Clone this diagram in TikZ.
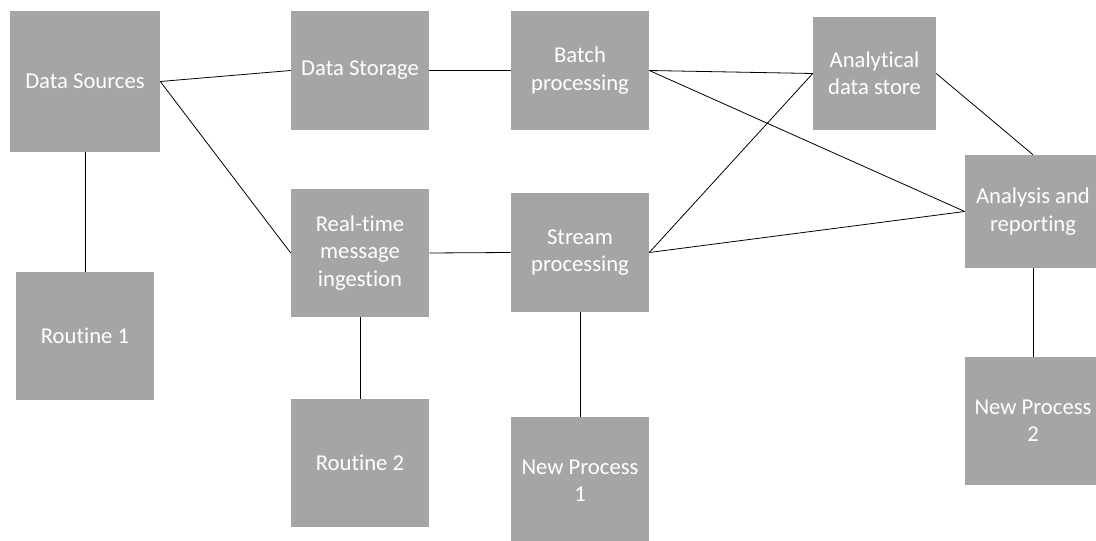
\documentclass[tikz,border=0pt]{standalone}
\usepackage{xcolor}
\usepackage{fontspec}
\setmainfont{Carlito}[Ligatures=NoCommon]
\usepackage{tikz}

\definecolor{boxgray}{HTML}{A5A5A5}

\begin{document}
\begin{tikzpicture}[
    x=0.75pt, y=-0.75pt,
    every node/.style={rectangle, fill=boxgray, text=white, inner sep=0pt, align=center,
        font=\fontsize{17}{20.5}\selectfont},
    wide/.style={minimum width=103.5pt},
    tall/.style={minimum height=96pt},
    short/.style={minimum height=89.25pt},
    link/.style={draw=black, line width=0.6pt}
]
\useasboundingbox (0,0) rectangle (1096,541);

% Top row
\node[minimum width=112.5pt, minimum height=105.75pt] (src) at (85,81.5) {Data Sources};
\node[wide, short] (storage) at (360,70.5) {Data Storage};
\node[wide, short] (batch) at (580,70.5) {Batch\\processing};
\node[minimum width=92.25pt, minimum height=84.75pt] (adstore) at (874.5,73.5) {Analytical\\data store};
\node[minimum width=102pt, minimum height=84.75pt] (report) at (1033,211.5) {Analysis and\\reporting};

% Middle row
\node[wide, tall] (ingest) at (360,253) {Real-time\\message\\ingestion};
\node[wide, short] (stream) at (580,252.5) {Stream\\processing};

% Bottom row
\node[wide, tall] (rout1) at (85,336) {Routine 1};
\node[wide, tall] (rout2) at (360,463) {Routine 2};
\node[wide, tall] (proc1) at (580,481) {New Process\\1};
\node[minimum width=102pt, tall] (proc2) at (1033,421) {New Process\\2};

% Links
\draw[link] (src.east) -- (storage.west);
\draw[link] (src.east) -- (ingest.west);
\draw[link] (src.south) -- (rout1.north);
\draw[link] (storage.east) -- (batch.west);
\draw[link] (batch.east) -- (adstore.west);
\draw[link] (batch.east) -- (report.west);
\draw[link] (ingest.east) -- (stream.west);
\draw[link] (ingest.south) -- (rout2.north);
\draw[link] (stream.east) -- (adstore.west);
\draw[link] (stream.east) -- (report.west);
\draw[link] (stream.south) -- (proc1.north);
\draw[link] (adstore.east) -- (report.north);
\draw[link] (report.south) -- (proc2.north);
\end{tikzpicture}
\end{document}
